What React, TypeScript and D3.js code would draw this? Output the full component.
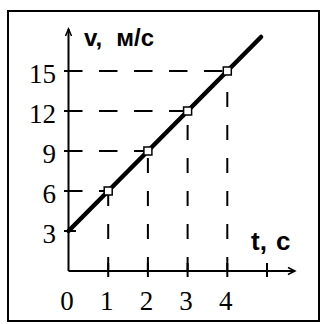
import React from "react";
import * as d3 from "d3";

const W = 321;
const H = 324;

// data
const pointT = [1, 2, 3, 4];
const pointV = [6, 9, 12, 15];
const lineT = [0, 4.85];
const lineV = [3, 17.55];
const xTicks = [1, 2, 3, 4, 5];
const xTickLabels = ["0", "1", "2", "3", "4"];
const xLabelPos = [0, 1, 2, 3, 4];
const yTicks = [3, 6, 9, 12, 15];
const yTickLabels = ["3", "6", "9", "12", "15"];

const x = d3.scaleLinear().domain([0, 5]).range([68.5, 267]);
const y = d3.scaleLinear().domain([0, 15]).range([271, 71]);

export default function App() {
  const line = d3
    .line<number>()
    .x((_, i) => x(lineT[i]))
    .y((_, i) => y(lineV[i]));
  const x0 = x(0);
  const y0 = y(0);
  const serif = "'Liberation Serif', 'Times New Roman', serif";
  const sans = "'Liberation Sans', Arial, sans-serif";
  return (
    <svg
      width={W}
      height={H}
      style={{ position: "absolute", left: 0, top: 0, background: "#fff" }}
    >
      <rect x={0} y={0} width={W} height={H} fill="#fff" />
      {/* frame */}
      <rect x={8} y={11} width={311} height={310} fill="none" stroke="#000" strokeWidth={2} />

      {/* dashed guides */}
      {pointT.map((t, i) => (
        <g key={"g" + i}>
          <line
            x1={64}
            y1={y(pointV[i])}
            x2={x(t) - 4}
            y2={y(pointV[i])}
            stroke="#000"
            strokeWidth={2}
            strokeDasharray="18.5,16.5"
          />
          <line
            x1={x(t)}
            y1={y0 + 1}
            x2={x(t)}
            y2={y(pointV[i]) + 4}
            stroke="#000"
            strokeWidth={2}
            strokeDasharray="15,18"
          />
        </g>
      ))}

      {/* axes */}
      <line x1={x0} y1={y0} x2={x0} y2={29} stroke="#000" strokeWidth={2} />
      <path d={`M${x0 - 3},36 L${x0},29 L${x0 + 3},36`} fill="none" stroke="#000" strokeWidth={1.5} />
      <line x1={x0} y1={y0} x2={295} y2={y0} stroke="#000" strokeWidth={2} />
      <path d={`M288,${y0 - 3.5} L295,${y0} L288,${y0 + 3.5}`} fill="none" stroke="#000" strokeWidth={1.5} />

      {/* ticks */}
      {xTicks.map((t) => (
        <line key={"xt" + t} x1={x(t)} y1={y0 - 8} x2={x(t)} y2={y0 + 6} stroke="#000" strokeWidth={2} />
      ))}
      {yTicks.map((v) => (
        <line key={"yt" + v} x1={64} y1={y(v)} x2={76} y2={y(v)} stroke="#000" strokeWidth={2} />
      ))}

      {/* main line */}
      <path d={line(lineT) || ""} fill="none" stroke="#000" strokeWidth={4.5} strokeLinecap="round" />

      {/* points */}
      {pointT.map((t, i) => (
        <rect
          key={"p" + i}
          x={x(t) - 4}
          y={y(pointV[i]) - 4}
          width={8}
          height={8}
          fill="#fff"
          stroke="#000"
          strokeWidth={1.5}
        />
      ))}

      {/* tick labels */}
      {yTicks.map((v, i) => (
        <text
          key={"yl" + v}
          x={56}
          y={y(v) + 12}
          textAnchor="end"
          fontFamily={serif}
          fontSize={27}
          fill="#000"
        >
          {yTickLabels[i]}
        </text>
      ))}
      {xLabelPos.map((t, i) => (
        <text
          key={"xl" + t}
          x={x(t) - 1.5}
          y={310}
          textAnchor="middle"
          fontFamily={serif}
          fontSize={27}
          fill="#000"
        >
          {xTickLabels[i]}
        </text>
      ))}

      {/* axis titles */}
      <text x={84} y={46} fontFamily={sans} fontWeight="bold" fontSize={24} fill="#000">
        v,
        <tspan dx={14}>м/с</tspan>
      </text>
      <text x={251} y={250} fontFamily={sans} fontWeight="bold" fontSize={26} fill="#000">
        t,
        <tspan dx={9}>c</tspan>
      </text>
    </svg>
  );
}
